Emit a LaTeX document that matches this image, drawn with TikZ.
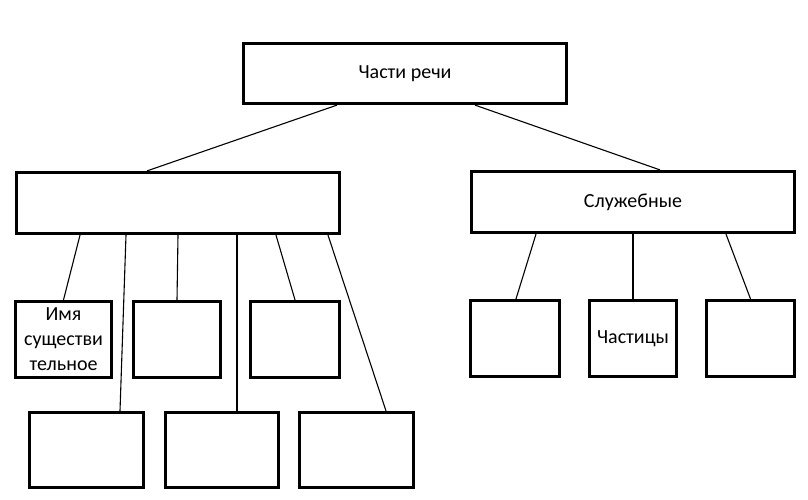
\documentclass[tikz,border=0pt]{standalone}
\usepackage{fontspec}
\setmainfont{Carlito}
\usetikzlibrary{backgrounds}
\begin{document}
\begin{tikzpicture}[x=1pt,y=-1pt,
  box/.style={draw=black,line width=3.2pt,fill=white,rectangle,inner sep=0pt,
    font=\fontsize{20}{25}\selectfont,align=center},
  conn/.style={draw=black,line width=1.1pt}]
\useasboundingbox (0,0) rectangle (808,499);
% boxes
\node[box,minimum width=323pt,minimum height=60pt] (T) at (405,73.5) {Части речи};
\node[box,minimum width=323pt,minimum height=61pt] (L) at (178,203) {};
\node[box,minimum width=323pt,minimum height=61pt] (S) at (633,202) {Служебные};
\node[box,minimum width=96pt,minimum height=76pt] (A) at (63.5,339.5) {Имя\\существи\\тельное};
\node[box,minimum width=87pt,minimum height=76pt] (B) at (177,339.5) {};
\node[box,minimum width=89pt,minimum height=76pt] (C) at (295,339.5) {};
\node[box,minimum width=114pt,minimum height=75pt] (D) at (86.5,450) {};
\node[box,minimum width=113pt,minimum height=75pt] (E) at (222,450) {};
\node[box,minimum width=114pt,minimum height=75pt] (F) at (356.5,450) {};
\node[box,minimum width=89pt,minimum height=76pt] (G) at (515,338.5) {};
\node[box,minimum width=87pt,minimum height=76pt] (H) at (633,338.5) {Частицы};
\node[box,minimum width=88pt,minimum height=76pt] (I) at (750.5,338.5) {};
% connectors
\begin{scope}[on background layer]
\draw[conn] ([xshift=-68pt]T.south) -- ([xshift=-31pt]L.north);
\draw[conn] ([xshift=70pt]T.south) -- ([xshift=27pt]S.north);
\draw[conn] ([xshift=-98pt]L.south) -- ([xshift=0pt]A.north);
\draw[conn] ([xshift=-52pt]L.south) -- ([xshift=33.5pt]D.north);
\draw[conn] (L.south) -- (B.north);
\draw[conn] ([xshift=59pt]L.south) -- ([xshift=15pt]E.north);
\draw[conn] ([xshift=98pt]L.south) -- (C.north);
\draw[conn] ([xshift=150pt]L.south) -- ([xshift=29.5pt]F.north);
\draw[conn] ([xshift=-97pt]S.south) -- ([xshift=1pt]G.north);
\draw[conn] (S.south) -- (H.north);
\draw[conn] ([xshift=93pt]S.south) -- (I.north);
\end{scope}
\end{tikzpicture}
\end{document}
